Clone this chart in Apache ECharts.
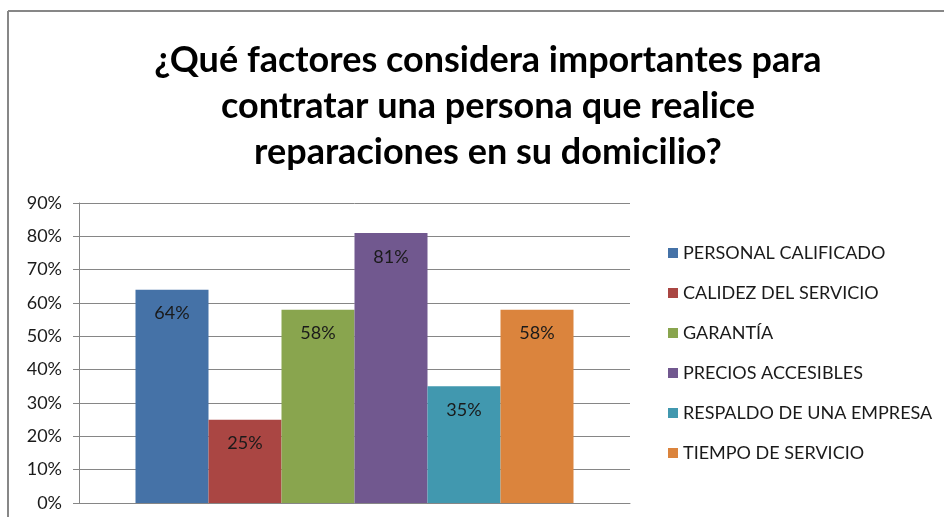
<!DOCTYPE html>
<html>
<head>
<meta charset="utf-8">
<script src="https://cdn.jsdelivr.net/npm/echarts@6/dist/echarts.min.js"></script>
<style>
  html, body { margin: 0; padding: 0; background: #fff; }
  #chart { width: 944px; height: 517px; }
</style>
</head>
<body>
<div id="chart"></div>
<script>
var seriesNames = ['PERSONAL CALIFICADO', 'CALIDEZ DEL SERVICIO', 'GARANTÍA',
    'PRECIOS ACCESIBLES', 'RESPALDO DE UNA EMPRESA', 'TIEMPO DE SERVICIO'];
var seriesValues = [64, 25, 58, 81, 35, 58];
var seriesColors = ['#4572A7', '#AA4643', '#89A54E', '#71588F', '#4198AF', '#DB843D'];
var categories = [''];

var myChart = echarts.init(document.getElementById('chart'));

var labelOption = {
    show: true,
    position: 'insideTop',
    distance: 15,
    formatter: '{c}%',
    fontFamily: 'Lato',
    fontSize: 18,
    color: '#1a1a1a'
};

var series = seriesNames.map(function (name, i) {
    return {
        type: 'bar',
        name: name,
        barWidth: 73,
        barGap: '0%',
        itemStyle: { color: seriesColors[i] },
        label: labelOption,
        data: [seriesValues[i]]
    };
});

var option = {
    backgroundColor: '#ffffff',
    animation: false,
    textStyle: { fontFamily: 'Lato' },
    title: {
        text: '¿Qué factores considera importantes para\ncontratar una persona que realice\nreparaciones en su domicilio?',
        left: 483,
        textAlign: 'center',
        top: 32,
        textStyle: {
            fontFamily: 'Lato',
            fontWeight: 'bold',
            fontSize: 36,
            lineHeight: 46,
            color: '#000'
        }
    },
    legend: {
        orient: 'vertical',
        left: 663,
        top: 239,
        itemWidth: 10,
        itemHeight: 10,
        itemGap: 22,
        icon: 'rect',
        textStyle: { fontFamily: 'Lato', fontSize: 18, lineHeight: 18, color: '#1a1a1a' },
        data: seriesNames
    },
    grid: { left: 79, top: 203, width: 551, height: 300 },
    xAxis: {
        type: 'category',
        data: categories,
        axisLine: { lineStyle: { color: '#868686' } },
        axisTick: { show: false },
        axisLabel: { show: false }
    },
    yAxis: {
        type: 'value',
        min: 0,
        max: 90,
        interval: 10,
        axisLine: { show: true, lineStyle: { color: '#868686' } },
        axisTick: { show: true, length: 6, lineStyle: { color: '#868686' } },
        axisLabel: {
            formatter: '{value}%',
            fontFamily: 'Lato',
            fontSize: 18,
            color: '#1a1a1a',
            margin: 17
        },
        splitLine: { lineStyle: { color: '#868686' } }
    },
    graphic: [
        { type: 'line', shape: { x1: 8, y1: 11, x2: 944, y2: 11 }, style: { stroke: '#878787', lineWidth: 2 } },
        { type: 'line', shape: { x1: 8, y1: 11, x2: 8, y2: 517 }, style: { stroke: '#878787', lineWidth: 2 } }
    ],
    series: series
};
myChart.setOption(option);
</script>
</body>
</html>
